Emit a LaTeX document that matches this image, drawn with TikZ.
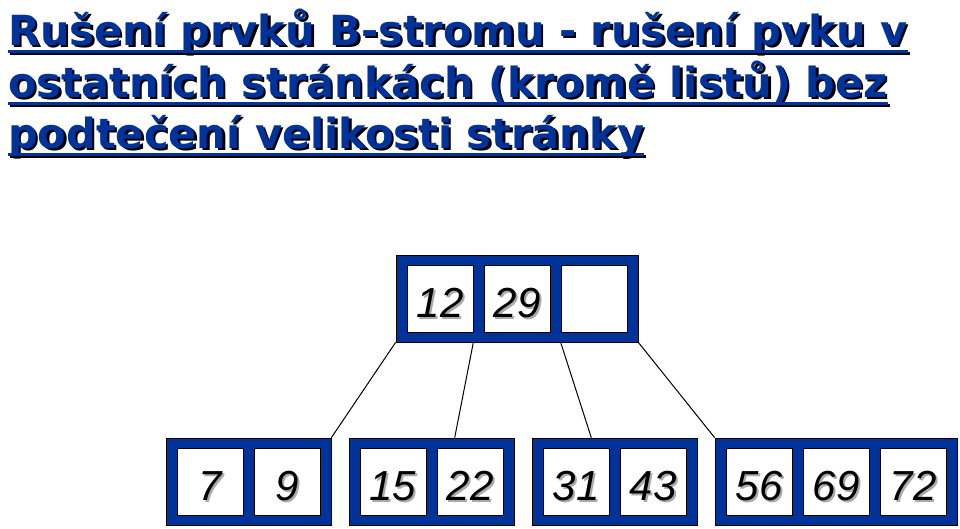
\documentclass[tikz,border=0pt]{standalone}
\usepackage{fontspec}
\setmainfont{Liberation Sans}
\newfontfamily\titlefont{DejaVu Sans}
\usepackage{xcolor}
\usetikzlibrary{calc}
\definecolor{pageblue}{RGB}{0,51,153}
\definecolor{shadegray}{RGB}{170,170,170}
\newcommand{\shnum}[1]{\rlap{\kern2pt\raisebox{-2pt}{\textcolor{shadegray}{#1}}}#1}
\newcommand{\shtitle}[1]{\rlap{\kern2.5pt\raisebox{-2.5pt}{\textcolor{black}{#1}}}#1}
\tikzset{
  page/.style={draw=black, fill=pageblue, line width=0.7pt, minimum height=87pt, inner sep=0pt},
  cell/.style={draw=black, fill=white, line width=0.7pt, minimum width=66pt, minimum height=67pt, inner sep=0pt, text height=37pt, text depth=0pt, font=\fontsize{42}{42}\selectfont\itshape},
  headline/.style={anchor=base west, inner sep=0pt, text=pageblue, font=\titlefont\bfseries\fontsize{41.5}{41.5}\selectfont},
  uline/.style={draw=pageblue, line width=3pt},
  ushadow/.style={draw=black, line width=3pt}
}

\begin{document}
\begin{tikzpicture}[x=1pt,y=-1pt]
		\useasboundingbox (0,0) rectangle (960,528);
		% title
		\node[headline] (t1) at (8,45) {\shtitle{Rušení prvků B-stromu - rušení pvku v}};
		\node[headline] (t2) at (8,97) {\shtitle{ostatních stránkách (kromě listů) bez}};
		\node[headline] (t3) at (8,148) {\shtitle{podtečení velikosti stránky}};
		\foreach \t in {t1,t2,t3} {
			\draw[ushadow] ([shift={(2pt,-8pt)}]\t.base west) -- ([shift={(2pt,-8pt)}]\t.base east);
			\draw[uline] ([yshift=-6pt]\t.base west) -- ([yshift=-6pt]\t.base east);
		}
		
		% root page
		\node[page, minimum width=242pt] (root) at (517,298.5) {};
		\node[cell] (r1) at (440,298.5) {\shnum{12}};
		\node[cell] (r2) at (517,298.5) {\shnum{29}};
		\node[cell] (r3) at (594,298.5) {};
		
		% leaf pages
		\node[page, minimum width=165pt] (leafA) at (248.5,481.5) {};
		\node[cell] (a1) at (210,481.5) {\shnum{7}};
		\node[cell] (a2) at (287,481.5) {\shnum{9}};
		
		\node[page, minimum width=165pt] (leafB) at (431.5,481.5) {};
		\node[cell] (b1) at (393,481.5) {\shnum{15}};
		\node[cell] (b2) at (470,481.5) {\shnum{22}};
		
		\node[page, minimum width=165pt] (leafC) at (614.5,481.5) {};
		\node[cell] (c1) at (576,481.5) {\shnum{31}};
		\node[cell] (c2) at (653,481.5) {\shnum{43}};
		
		\node[page, minimum width=242pt] (leafD) at (836,481.5) {};
		\node[cell] (d1) at (759,481.5) {\shnum{56}};
		\node[cell] (d2) at (836,481.5) {\shnum{69}};
		\node[cell] (d3) at (913,481.5) {\shnum{72}};
		
		% pointers
		\draw[line width=1pt] (root.south west) -- (leafA.north east);
		\draw[line width=1pt] (r1.east |- root.south) -- ($(leafB.north west)!0.64!(leafB.north east)$);
		\draw[line width=1pt] (r3.west |- root.south) -- ($(leafC.north west)!0.36!(leafC.north east)$);
		\draw[line width=1pt] (root.south east) -- (leafD.north west);
		\end{tikzpicture}
\end{document}
